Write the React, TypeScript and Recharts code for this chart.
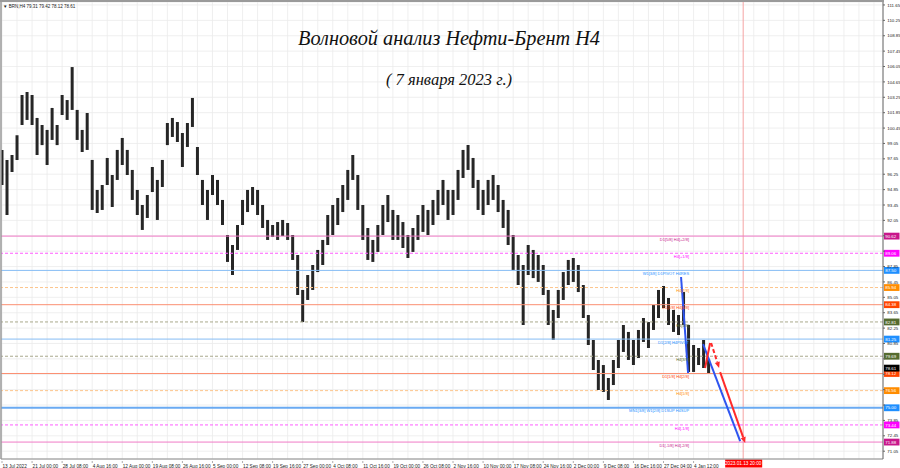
import React from 'react';
import { ComposedChart, Bar, XAxis, YAxis, CartesianGrid, ReferenceLine, ReferenceDot } from 'recharts';

// BRN H4 bars (one bar per ~5px column)
const highs = [
  98.46, 97.55, 98.0, 99.8, 103.46, 103.73, 103.46, 101.37, 100.73, 100.28,
  102.28, 100.73, 103.46, 103.0, 106.0, 102.1, 100.28, 101.82, 97.55, 94.82,
  95.27, 97.73, 96.18, 98.46, 99.55, 98.46, 96.64, 94.82, 93.45, 94.36,
  96.91, 95.73, 97.55, 100.91, 101.37, 101.0, 100.0, 100.91, 103.19, 98.73,
  95.73, 94.82, 96.18, 95.73, 93.91, 90.72, 89.81, 91.63, 93.91, 94.82,
  95.09, 94.82, 93.45, 92.09, 91.63, 91.9, 92.09, 91.81, 90.72, 88.9,
  85.72, 87.08, 87.99, 89.36, 90.27, 92.54, 93.45, 94.09, 95.27, 96.64,
  98.0, 96.18, 93.45, 91.36, 90.27, 91.63, 93.45, 94.36, 93.0, 92.54,
  91.9, 90.72, 91.36, 92.54, 93.45, 93.0, 93.91, 94.82, 95.73, 94.82,
  94.82, 96.64, 98.46, 98.91, 97.73, 95.73, 94.82, 95.73, 96.18, 95.27,
  93.91, 93.0, 90.72, 88.9, 87.99, 89.81, 89.36, 88.9, 87.99, 85.72,
  83.9, 85.72, 87.35, 88.45, 88.63, 87.99, 86.17, 83.44, 81.17, 79.35,
  78.89, 77.71, 79.35, 81.17, 82.53, 81.9, 81.17, 82.08, 83.17, 82.8,
  84.35, 85.72, 86.08, 84.99, 83.9, 83.44, 85.53, 82.53, 80.71, 80.44,
  81.17, 79.42,
];
const lows = [
  95.27, 92.54, 96.45, 97.55, 100.73, 101.19, 100.73, 98.0, 98.9, 97.09,
  99.37, 98.9, 101.64, 101.19, 102.1, 99.37, 98.27, 98.46, 93.0, 92.72,
  93.0, 95.27, 93.27, 95.73, 97.09, 96.18, 93.91, 92.54, 91.18, 92.27,
  94.63, 92.09, 95.09, 98.9, 99.64, 99.18, 96.91, 98.73, 100.55, 96.18,
  93.45, 92.09, 94.36, 93.45, 91.63, 88.27, 87.08, 89.36, 91.63, 92.81,
  93.45, 92.54, 91.36, 90.27, 90.54, 90.27, 90.63, 90.27, 88.45, 85.26,
  82.8, 84.81, 85.72, 87.35, 87.99, 89.81, 90.72, 91.63, 92.81, 93.91,
  95.73, 93.0, 90.27, 88.45, 88.27, 89.18, 90.72, 91.9, 90.27, 90.27,
  89.54, 88.63, 89.18, 90.27, 91.0, 90.72, 91.63, 92.54, 93.45, 92.09,
  92.54, 93.91, 95.91, 96.64, 95.0, 93.0, 92.54, 93.45, 93.91, 92.81,
  91.36, 89.81, 87.54, 86.17, 82.53, 87.08, 86.8, 86.45, 85.26, 82.53,
  81.17, 83.17, 84.81, 86.17, 86.45, 85.53, 83.17, 80.71, 78.44, 76.62,
  76.44, 75.71, 77.07, 78.62, 80.08, 79.35, 78.89, 79.53, 80.99, 80.44,
  82.08, 83.17, 84.08, 82.53, 81.9, 81.62, 82.53, 78.26, 78.26, 78.89,
  78.62, 78.12,
];

const dateLabels = [
  '13 Jul 2022', '21 Jul 00:00', '28 Jul 08:00', '4 Aug 16:00', '12 Aug 00:00', '19 Aug 08:00',
  '26 Aug 16:00', '5 Sep 00:00', '12 Sep 08:00', '19 Sep 16:00', '27 Sep 00:00', '4 Oct 08:00',
  '11 Oct 16:00', '19 Oct 00:00', '26 Oct 08:00', '2 Nov 16:00', '10 Nov 00:00', '17 Nov 08:00',
  '24 Nov 16:00', '2 Dec 00:00', '9 Dec 08:00', '16 Dec 16:00', '27 Dec 04:00', '4 Jan 12:00',
];
const barsPerLabel = 6;

const priceTicks = [
  111.65, 110.25, 108.85, 107.45, 106.05, 104.65, 103.25, 101.85, 100.45, 99.05,
  97.65, 96.25, 94.85, 93.45, 92.05, 90.65, 89.25, 87.85, 86.45, 85.05,
  83.65, 82.25, 80.85, 79.45, 78.05, 76.65, 75.25, 73.85, 72.45, 71.05,
];

// Murrey math levels
const levelPrices = [90.62, 89.06, 87.5, 85.94, 84.38, 82.81, 81.25, 79.69, 78.12, 76.56, 75.0, 73.44, 71.88];
const levelNames = [
  'D1[5/8] H4[+2/8]', 'H4[+1/8]', 'W1[3/8] D1PIVOT H4RES', 'H4[7/8]', 'D1[3/8] H4[6/8]', 'H4[5/8]',
  'D1[2/8] H4PIVOT', 'H4[3/8]', 'D1[1/8] H4[2/8]', 'H4[1/8]', 'MN1[3/8] W1[2/8] D1SUP H4SUP', 'H4[-1/8]',
  'D1[-1/8] H4[-2/8]',
];
const levelKinds = ['pink', 'magenta', 'blue', 'orange', 'red', 'olive', 'blue', 'olive', 'red', 'orange', 'blueBold', 'magenta', 'pink'];

const lastPrice = 78.61;
const quote = 'BRN,H4  79.31 79.42 78.12 78.61';
const futureBar = 147.9;
const futureTime = '2023.01.13 20:00';
const title = 'Волновой анализ Нефти-Брент H4';
const subtitle = '( 7 января 2023 г.)';

// wave forecast strokes: [barIndex, price]
const blueWave1 = [[135.5, 86.9], [136.9, 78.16]];
const blueWave2 = [[139.9, 80.8], [147.3, 71.97]];
const redUp = [[140.3, 78.62], [141.3, 80.9]];
const redDashed = [[141.5, 80.9], [143.1, 78.62]];
const redMain = [[143.3, 78.25], [148.3, 71.79]];

const rows = highs.map((h, i) => ({ i, range: [lows[i], h] }));
const gridTicks: number[] = [];
for (let t = 0; t <= 174; t += 3) gridTicks.push(t);

const boxPrices = [...levelPrices, lastPrice];

const STYLES: Record<string, { line: string; box: string; dash?: string; w?: number }> = {
  pink: { line: '#f07ac6', box: '#c8178b' },
  magenta: { line: '#ff5cff', box: '#ff00ff', dash: '3 2' },
  blue: { line: '#86bcf4', box: '#1e8fff' },
  blueBold: { line: '#6aaaf2', box: '#1e8fff', w: 2 },
  orange: { line: '#fcc58c', box: '#ff8c00', dash: '3 2' },
  red: { line: '#fb8f72', box: '#ff4500' },
  olive: { line: '#a9a98c', box: '#556b2f', dash: '3 2' },
};

const FONT = '"Liberation Sans", Arial, sans-serif';

const PriceTick = (props: any) => {
  const { x, y, payload } = props;
  // price boxes sit on top of these in the terminal
  if (boxPrices.some((b) => Math.abs(b - payload.value) < 0.3)) return null;
  return (
    <text x={x + 0.3} y={y + 1.6} fontSize={4.4} fontFamily={FONT} fill="#222">
      {payload.value.toFixed(2)}
    </text>
  );
};

const DateTick = (props: any) => {
  const { x, y, payload } = props;
  if (payload.value % barsPerLabel !== 0) return null;
  const label = dateLabels[payload.value / barsPerLabel];
  if (!label) return null;
  return (
    <g>
      <line x1={x} x2={x} y1={y - 2} y2={y} stroke="#777" strokeWidth={0.6} />
      <text x={x + 0.5} y={y + 4.6} fontSize={4.7} fontFamily={FONT} fill="#222">
        {label}
      </text>
    </g>
  );
};

const PriceBox = (props: any) => {
  const { viewBox, fill, text } = props;
  if (!viewBox) return null;
  const x = viewBox.x + viewBox.width + 1;
  const y = viewBox.y;
  return (
    <g>
      <rect x={x} y={y - 3.4} width={15.5} height={6.8} fill={fill} />
      <text x={x + 1.2} y={y + 1.6} fontSize={4.4} fontFamily={FONT} fill="#fff">
        {text}
      </text>
    </g>
  );
};

const LevelText = (props: any) => {
  const { viewBox, fill, text } = props;
  if (!viewBox) return null;
  return (
    <text x={viewBox.x} y={viewBox.y + 4.6} textAnchor="end" fontSize={4} fontFamily={FONT} fill={fill}>
      {text}
    </text>
  );
};

const TimeBox = (props: any) => {
  const { viewBox, text } = props;
  if (!viewBox) return null;
  const x = viewBox.x;
  const y = viewBox.y + viewBox.height;
  return (
    <g>
      <rect x={x - 18} y={y + 0.5} width={37} height={8} fill="#ff0000" />
      <text x={x} y={y + 6.2} textAnchor="middle" fontSize={4.7} fontFamily={FONT} fill="#fff">
        {text}
      </text>
    </g>
  );
};

const arrow = (color: string, dashed: boolean, head: boolean) => (props: any) => {
  const { x1, y1, x2, y2 } = props;
  if ([x1, y1, x2, y2].some((v) => typeof v !== 'number' || isNaN(v))) return null;
  const ang = Math.atan2(y2 - y1, x2 - x1);
  const L = 6;
  const W = 2.6;
  const bx = x2 - L * Math.cos(ang);
  const by = y2 - L * Math.sin(ang);
  const px = -Math.sin(ang) * W;
  const py = Math.cos(ang) * W;
  return (
    <g>
      <line x1={x1} y1={y1} x2={head ? bx : x2} y2={head ? by : y2} stroke={color} strokeWidth={2} strokeDasharray={dashed ? '4 2.5' : undefined} />
      {head && <polygon points={`${x2},${y2} ${bx + px},${by + py} ${bx - px},${by - py}`} fill={color} />}
    </g>
  );
};

const seg = (pts: number[][]) => pts.map(([x, y]) => ({ x, y }));

export default function App() {
  return (
    <div style={{ position: 'relative', width: 900, height: 468, background: '#fff' }}>
      <style>{'body{margin:0;background:#fff}'}</style>
      <ComposedChart width={900} height={468} data={rows} margin={{ top: 2, right: 0, bottom: 0, left: 1 }}>
        <CartesianGrid stroke="#ebebeb" strokeWidth={0.8} />
        <XAxis
          type="number"
          dataKey="i"
          domain={[-0.2, 175.8]}
          ticks={gridTicks}
          interval={0}
          allowDataOverflow
          height={9}
          axisLine={{ stroke: '#888' }}
          tickLine={false}
          tickSize={2}
          tick={<DateTick />}
        />
        <YAxis
          orientation="right"
          width={17}
          domain={[70.34, 111.92]}
          ticks={priceTicks}
          interval={0}
          allowDataOverflow
          axisLine={{ stroke: '#666' }}
          tickLine={{ stroke: '#666' }}
          tickSize={2}
          tick={<PriceTick />}
        />
        <ReferenceLine x={futureBar} stroke="#f5a3a3" strokeWidth={1} ifOverflow="visible" label={<TimeBox text={futureTime} />} />
        {levelPrices.map((p, k) => {
          const st = STYLES[levelKinds[k]];
          return (
            <ReferenceLine
              key={'l' + k}
              y={p}
              stroke={st.line}
              strokeWidth={st.w || 1}
              strokeDasharray={st.dash}
              ifOverflow="visible"
              label={<PriceBox fill={st.box} text={p.toFixed(2)} />}
            />
          );
        })}
        <ReferenceLine y={lastPrice} stroke="none" ifOverflow="visible" label={<PriceBox fill="#000" text={lastPrice.toFixed(2)} />} />
        <Bar dataKey="range" fill="#262626" barSize={3} isAnimationActive={false} />
        {levelPrices.map((p, k) => (
          <ReferenceDot
            key={'t' + k}
            x={137.1}
            y={p}
            r={0}
            fill="none"
            stroke="none"
            ifOverflow="visible"
            label={<LevelText fill={STYLES[levelKinds[k]].box} text={levelNames[k]} />}
          />
        ))}
        <ReferenceLine segment={seg(blueWave1)} shape={arrow('#2f55f0', false, false)} ifOverflow="visible" />
        <ReferenceLine segment={seg(blueWave2)} shape={arrow('#2f55f0', false, false)} ifOverflow="visible" />
        <ReferenceLine segment={seg(redUp)} shape={arrow('#ff2a2a', false, false)} ifOverflow="visible" />
        <ReferenceLine segment={seg(redDashed)} shape={arrow('#ff2a2a', true, true)} ifOverflow="visible" />
        <ReferenceLine segment={seg(redMain)} shape={arrow('#ff2a2a', false, true)} ifOverflow="visible" />
      </ComposedChart>
      <svg width={900} height={468} style={{ position: 'absolute', left: 0, top: 0, pointerEvents: 'none' }}>
        <line x1={0} y1={1} x2={884} y2={1} stroke="#9a9a9a" strokeWidth={2} />
        <line x1={1} y1={0} x2={1} y2={459} stroke="#9a9a9a" strokeWidth={1.5} />
        <text x={3} y={8} fontSize={4.5} fontFamily={FONT} fill="#222">
          {'▼ ' + quote}
        </text>
        <text x={298} y={45} fontSize={21} fontStyle="italic" fontFamily='"Liberation Serif", serif' fill="#111" textLength={302} lengthAdjust="spacingAndGlyphs">
          {title}
        </text>
        <text x={386} y={85} fontSize={16} fontStyle="italic" fontFamily='"Liberation Serif", serif' fill="#111" textLength={126} lengthAdjust="spacingAndGlyphs">
          {subtitle}
        </text>
      </svg>
    </div>
  );
}
